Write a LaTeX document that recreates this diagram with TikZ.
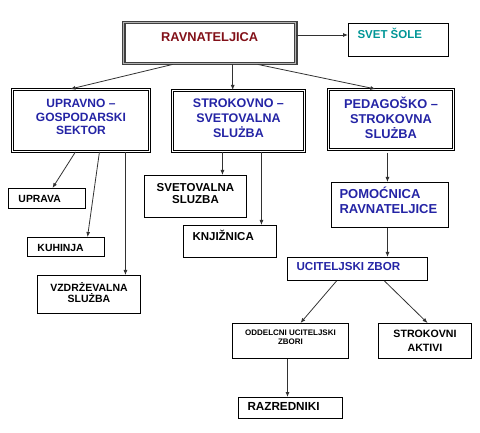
\documentclass[tikz,border=0pt]{standalone}
\usepackage{fontspec}
\setmainfont{Liberation Sans}
\usetikzlibrary{arrows.meta}
\definecolor{headred}{RGB}{130,16,24}
\definecolor{councilteal}{RGB}{0,150,150}
\definecolor{unitblue}{RGB}{36,36,165}
\definecolor{linegray}{RGB}{50,50,50}

\begin{document}
\begin{tikzpicture}[x=1pt, y=-1pt,
        box/.style={draw=black, line width=1pt, anchor=north west,
                    inner ysep=0pt, inner xsep=2pt, align=flush center},
        mainbox/.style={box, double=white, double distance=1pt, line width=0.9pt},
        headbox/.style={box, draw=black!75, double=black!30, double distance=0.8pt,
                        line width=1.4pt},
        leftbox/.style={align=flush left, inner xsep=#1pt},
        boxsize/.style n args={3}{text width=#1pt, text height=#2pt, text depth=#3pt},
        fs/.style n args={2}{font=\bfseries\fontsize{#1}{#2}\selectfont},
        conn/.style={draw=linegray, line width=0.8pt, -{Latex[length=5pt, width=4pt]}}]
      \useasboundingbox (0,0) rectangle (480,433);
      \node[headbox, boxsize={168}{18.6}{22.4}, fs={12.8}{15}, text=headred]
           (ravn) at (123,22) {RAVNATELJICA};
      \node[box, leftbox=9, boxsize={82}{15.1}{17.9}, fs={11.5}{14}, text=councilteal]
           (svet) at (348,23) {SVET ŠOLE};
      \node[mainbox, boxsize={133}{18.3}{43.7}, fs={12}{13.5}, text=unitblue]
           (upr) at (12,89) {UPRAVNO –\\GOSPODARSKI\\SEKTOR};
      \node[mainbox, boxsize={128}{17.5}{43.5}, fs={12.5}{15}, text=unitblue]
           (strok) at (172,90) {STROKOVNO –\\SVETOVALNA\\SLUŻBA};
      \node[mainbox, boxsize={121}{18.6}{41.4}, fs={12.8}{15}, text=unitblue]
           (ped) at (328,89) {PEDAGOŠKO –\\STROKOVNA\\SLUŻBA};
      \node[box, leftbox=10, boxsize={57}{13.7}{6.3}, fs={10.4}{12}]
           (uprava) at (8,188) {UPRAVA};
      \node[box, leftbox=10, boxsize={57}{13.7}{5.3}, fs={10.4}{12}]
           (kuh) at (27,237) {KUHINJA};
      \node[box, boxsize={99}{15.8}{22.2}, fs={10.5}{11}]
           (vzd) at (37,275) {VZDRŻEVALNA\\SLUŻBA};
      \node[box, boxsize={98}{16.1}{25.9}, fs={11.5}{12}]
           (svt) at (144,175) {SVETOVALNA\\SLUZBA};
      \node[box, leftbox=9, boxsize={75}{15.1}{16.9}, fs={11.5}{13}]
           (knj) at (183,225) {KNJIŽNICA};
      \node[box, leftbox=8, boxsize={101}{15.7}{29.3}, fs={13}{15}, text=unitblue]
           (pom) at (331,182) {POMOĆNICA\\RAVNATELJICE};
      \node[box, leftbox=9, boxsize={122}{13.2}{9.8}, fs={11.6}{13}, text=unitblue]
           (ucz) at (287,257) {UCITELJSKI ZBOR};
      \node[box, boxsize={112}{11.9}{23.1}, fs={8}{9}]
           (odd) at (232,323) {ODDELCNI UCITELJSKI\\ZBORI};
      \node[box, boxsize={89}{13.8}{21.2}, fs={10.6}{14}]
           (sa) at (378,323) {STROKOVNI\\AKTIVI};
      \node[box, leftbox=9, boxsize={86}{13.2}{7.8}, fs={11.7}{13}]
           (raz) at (238,397) {RAZREDNIKI};
      \draw[conn] ([yshift=-13pt]ravn.north east) -- ([yshift=-13pt]ravn.north east -| svet.west);
      \draw[conn] ([xshift=-37pt]ravn.south) -- ([xshift=-10.5pt]upr.north);
      \draw[conn] ([xshift=23pt]ravn.south) -- ([xshift=23pt]ravn.south |- strok.north);
      \draw[conn] ([xshift=48pt]ravn.south) -- ([xshift=-15.5pt]ped.north);
      \draw[conn] ([xshift=-5.5pt]upr.south) -- ([xshift=5.5pt]uprava.north);
      \draw[conn] ([xshift=18.5pt]upr.south) -- ([xshift=21.5pt]kuh.north);
      \draw[conn] ([xshift=44.5pt]upr.south) -- ([xshift=44.5pt]upr.south |- vzd.north);
      \draw[conn] ([xshift=-16pt]strok.south) -- ([xshift=-16pt]strok.south |- svt.north);
      \draw[conn] ([xshift=23pt]strok.south) -- ([xshift=23pt]strok.south |- knj.north);
      \draw[conn, shorten <=3pt] ([xshift=-3.5pt]ped.south) -- ([xshift=-3.5pt]ped.south |- pom.north);
      \draw[conn] ([xshift=-2.5pt]pom.south) -- ([xshift=-2.5pt]pom.south |- ucz.north);
      \draw[conn] ([xshift=-21pt]ucz.south) -- ([xshift=10pt]odd.north);
      \draw[conn] ([xshift=27pt]ucz.south) -- ([xshift=2.5pt]sa.north);
      \draw[conn] ([xshift=-3pt]odd.south) -- ([xshift=-3pt]odd.south |- raz.north);
    \end{tikzpicture}
\end{document}
